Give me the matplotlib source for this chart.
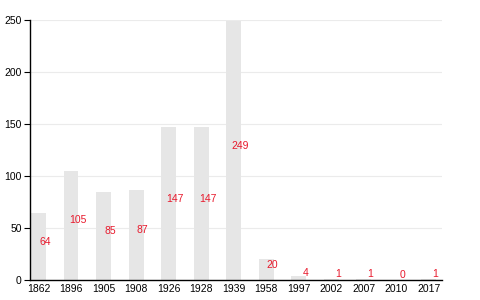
import numpy as np
import matplotlib.pyplot as plt

# data
years = ['1862', '1896', '1905', '1908', '1926', '1928', '1939',
         '1958', '1997', '2002', '2007', '2010', '2017']
values = [64, 105, 85, 87, 147, 147, 249, 20, 4, 1, 1, 0, 1]

plt.rcParams['font.family'] = ['Liberation Sans', 'DejaVu Sans']

fig = plt.figure(figsize=(4.8, 3), dpi=100)
ax = fig.add_axes([0.0625, 0.0667, 0.858, 0.8666])

x = np.arange(len(years))
ax.bar(x, values, width=0.46, color='#e6e6e6', zorder=2)

# value labels, roughly at half height, a bit right of the bar centre
for xi, v in zip(x, values):
    ax.text(xi + 0.2, v / 2, str(v), color='#e8192c', fontsize=7.5,
            ha='center', va='bottom', zorder=3)

ax.set_xlim(-0.26, 12.4)
ax.set_ylim(0, 250)
ax.set_yticks([0, 50, 100, 150, 200, 250])
ax.set_xticks(x)
ax.set_xticklabels(years)
ax.tick_params(axis='x', length=0, labelsize=7.5, pad=3)
ax.tick_params(axis='y', length=4, width=0.8, labelsize=7.5, pad=2)
ax.grid(axis='y', color='#ebebeb', linewidth=0.8, zorder=0)

for s in ['top', 'right']:
    ax.spines[s].set_visible(False)
ax.spines['left'].set_linewidth(1)
ax.spines['bottom'].set_linewidth(1)

plt.savefig('out.png', dpi=100)
